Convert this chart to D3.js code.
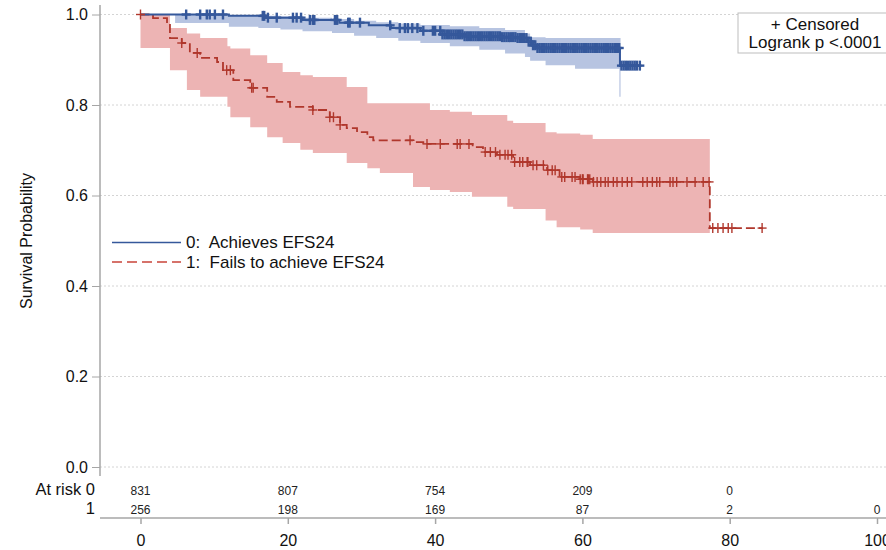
<!DOCTYPE html>
<html>
<head>
<meta charset="utf-8">
<script src="https://cdn.jsdelivr.net/npm/d3@7"></script>
<style>
body { margin: 0; background: #fff; }
svg { display: block; font-family: "Liberation Sans", Arial, sans-serif; }
</style>
</head>
<body>
<svg id="chart" width="886" height="550"></svg>
<script>
// Kaplan-Meier estimates: [month, survival]
const blueSteps = [[0, 1.0], [12, 0.997], [17, 0.993], [22, 0.988], [27, 0.982], [31, 0.976], [34, 0.970],
    [38, 0.964], [41, 0.956], [44, 0.952], [49, 0.950], [51, 0.948], [52.5, 0.940], [53.2, 0.932],
    [53.8, 0.926], [65.1, 0.887], [67.4, 0.887]]
const redSteps = [[0, 1.0], [1.7, 0.992], [3.6, 0.977], [4.0, 0.948], [5.6, 0.937], [6.7, 0.915], [8.1, 0.904],
    [10.4, 0.895], [11.2, 0.877], [12.6, 0.855], [14.9, 0.838], [17.2, 0.818], [18.5, 0.807], [20.3, 0.796],
    [23.4, 0.789], [25.7, 0.773], [27.1, 0.756], [28.0, 0.749], [29.4, 0.740], [30.8, 0.729], [31.6, 0.722],
    [37.0, 0.718], [38.4, 0.714], [45.1, 0.707], [46.5, 0.696], [48.4, 0.690], [50.6, 0.674], [52.9, 0.667],
    [55.2, 0.656], [56.9, 0.641], [59.7, 0.636], [61.4, 0.630], [77.3, 0.528], [84.5, 0.528]]

// confidence bands: [month, lower, upper]
const blueBand = [[4.7, 0.981, 0.999], [12, 0.973, 0.999], [16, 0.970, 0.997], [19, 0.967, 0.996],
    [22, 0.963, 0.993], [26, 0.959, 0.990], [29, 0.953, 0.986], [32, 0.948, 0.983], [35, 0.942, 0.980],
    [38, 0.937, 0.977], [42, 0.930, 0.974], [46, 0.922, 0.970], [49.5, 0.914, 0.966], [52.2, 0.906, 0.958],
    [52.9, 0.898, 0.950], [55, 0.888, 0.948], [59, 0.880, 0.948], [65.1, 0.880, 0.948]]
const blueBandTail = [65.1, 0.818, 0.948]
const redBand = [[0, 0.926, 1.0], [4, 0.877, 0.970], [6.3, 0.833, 0.958], [8.1, 0.818, 0.948],
    [11.8, 0.796, 0.930], [12.2, 0.773, 0.925], [14.9, 0.751, 0.910], [17.2, 0.729, 0.893],
    [19.3, 0.716, 0.873], [21.7, 0.701, 0.866], [23.4, 0.694, 0.862], [28, 0.672, 0.840],
    [30.8, 0.660, 0.804], [32.5, 0.650, 0.804], [37, 0.619, 0.804], [39.3, 0.612, 0.789],
    [42, 0.608, 0.785], [45, 0.597, 0.778], [49.8, 0.575, 0.765], [50.6, 0.570, 0.760],
    [55, 0.545, 0.740], [56.5, 0.530, 0.737], [59.7, 0.525, 0.734], [61.4, 0.517, 0.725], [77.3, 0.517, 0.725]]

// censoring times (months)
const blueCensored = [6.2, 8.1, 9.0, 9.4, 10.1, 11.2, 16.6, 16.8, 17.3, 18.5, 20.7, 21.2, 21.8, 23.0, 23.4,
    23.6, 26.4, 26.7, 28.2, 28.4, 29.8, 33.9, 35.2, 35.9, 36.3, 36.9, 37.6, 38.4, 39.7, 40.0,
    40.7, 41.0, 41.3, 41.6, 41.9, 42.2, 42.5, 42.8, 43.1, 43.4, 43.7, 44.0, 44.3, 44.6, 44.9, 45.2, 45.5,
    45.8, 46.1, 46.4, 46.7, 47.0, 47.3, 47.6, 47.9, 48.2, 48.5, 48.8, 49.1, 49.4, 49.7, 50.0, 50.3, 50.6,
    50.9, 51.2, 51.5, 51.8, 52.1, 52.4, 52.7, 53.0, 53.3, 53.6, 53.9, 54.2, 54.5, 54.8, 55.1, 55.4, 55.7,
    56.0, 56.3, 56.6, 56.9, 57.2, 57.5, 57.8, 58.1, 58.4, 58.7, 59.0, 59.3, 59.6, 59.9, 60.2, 60.5, 60.8,
    61.1, 61.4, 61.7, 62.0, 62.3, 62.6, 62.9, 63.2, 63.5, 63.8, 64.1, 64.4, 64.7, 65.0, 65.3, 65.6, 65.9,
    66.2, 66.5, 66.8, 67.1, 67.4, 67.8]
const redCensored = [0, 5.6, 7.7, 11.7, 12.2, 15.1, 15.3, 23.4, 25.7, 26.2, 27.1, 36.6, 38.9, 40.7, 43.0,
    43.4, 44.6, 46.8, 47.5, 48.2, 48.8, 49.5, 49.9, 50.4, 50.8, 51.5, 51.9, 52.5, 52.6, 53.3, 53.8, 54.7,
    55.3, 55.9, 56.3, 57.2, 57.6, 58.6, 59.0, 59.7, 60.0, 60.1, 60.7, 60.8, 61.0, 61.5, 62.0, 62.5, 63.1,
    63.5, 64.2, 64.7, 65.4, 66.1, 66.7, 68.2, 68.8, 69.5, 70.1, 70.5, 71.9, 72.3, 72.8, 74.2, 75.3, 76.4,
    77.2, 77.7, 78.4, 79.1, 79.8, 80.3, 84.4]

const xTicks = [0, 20, 40, 60, 80, 100]
const yTicks = [0, 0.2, 0.4, 0.6, 0.8, 1.0]
const atRisk0 = [831, 807, 754, 209, 0]
const atRisk1 = [256, 198, 169, 87, 2, 0]
const groupLabels = ['0:  Achieves EFS24', '1:  Fails to achieve EFS24']

const blueColor = '#35589b'
const redColor = '#b0372c'
const blueFill = '#b7c4e1'
const redFill = '#edb4b4'
const axisColor = '#a6a6a6'

const svg = d3.select('#chart')
const x = d3.scaleLinear().domain([0, 100]).range([140.5, 877])
const y = d3.scaleLinear().domain([0, 1]).range([467, 14.5])

// grid
svg.append('g').selectAll('line')
    .data(yTicks)
    .join('line')
    .attr('x1', 100).attr('x2', 886)
    .attr('y1', d => y(d)).attr('y2', d => y(d))
    .attr('stroke', '#d4d4d4')
    .attr('stroke-dasharray', '2,2')

// bands
const band = d3.area()
    .x(d => x(d[0]))
    .y0(d => y(d[1]))
    .y1(d => y(d[2]))
    .curve(d3.curveStepAfter)

svg.append('path').attr('d', band(redBand)).attr('fill', redFill)
svg.append('path').attr('d', band(blueBand)).attr('fill', blueFill)
svg.append('line')
    .attr('x1', x(blueBandTail[0])).attr('x2', x(blueBandTail[0]))
    .attr('y1', y(blueBandTail[1])).attr('y2', y(blueBandTail[2]))
    .attr('stroke', blueFill).attr('stroke-width', 1.2)

// curves
const step = d3.line()
    .x(d => x(d[0]))
    .y(d => y(d[1]))
    .curve(d3.curveStepAfter)

svg.append('path').attr('d', step(redSteps))
    .attr('fill', 'none').attr('stroke', redColor).attr('stroke-width', 1.8)
    .attr('stroke-dasharray', '9,4')
svg.append('path').attr('d', step(blueSteps))
    .attr('fill', 'none').attr('stroke', blueColor).attr('stroke-width', 2)

const survAt = (steps, t) => {
    let s = steps[0][1]
    steps.forEach(d => { if (d[0] <= t) s = d[1] })
    return s
}

const drawCensor = (times, steps, color, width) => {
    const g = svg.append('g').attr('stroke', color).attr('stroke-width', width)
    times.forEach(t => {
        const cx = x(t), cy = y(survAt(steps, t))
        g.append('line').attr('x1', cx).attr('x2', cx).attr('y1', cy - 5).attr('y2', cy + 5)
        g.append('line').attr('x1', cx - 4.5).attr('x2', cx + 4.5).attr('y1', cy).attr('y2', cy)
    })
}
drawCensor(redCensored, redSteps, redColor, 1.4)
drawCensor(blueCensored, blueSteps, blueColor, 2.4)

// y axis
const yAxis = svg.append('g')
    .attr('transform', 'translate(100,0)')
    .call(d3.axisLeft(y).tickValues(yTicks).tickFormat(d3.format('.1f')).tickSize(8).tickPadding(4))
yAxis.select('.domain').remove()
yAxis.selectAll('line').attr('stroke', axisColor)
yAxis.selectAll('text').attr('font-size', 16).attr('fill', '#111').attr('font-family', null)
svg.append('line').attr('x1', 100).attr('x2', 100).attr('y1', 5).attr('y2', 476)
    .attr('stroke', axisColor).attr('stroke-width', 1.5)

// x axis
const xAxis = svg.append('g')
    .attr('transform', 'translate(0,518)')
    .call(d3.axisBottom(x).tickValues(xTicks).tickSize(6).tickPadding(11))
xAxis.select('.domain').remove()
xAxis.selectAll('line').attr('stroke', axisColor).attr('stroke-width', 1.5)
xAxis.selectAll('text').attr('font-size', 16).attr('fill', '#111').attr('font-family', null)
svg.append('line').attr('x1', 100).attr('x2', 886).attr('y1', 518).attr('y2', 518)
    .attr('stroke', axisColor).attr('stroke-width', 1.5)

svg.append('text')
    .attr('transform', 'translate(32,241) rotate(-90)')
    .attr('text-anchor', 'middle')
    .attr('font-size', 16)
    .attr('fill', '#111')
    .text('Survival Probability')

// at-risk table
svg.append('text').attr('x', 95).attr('y', 495).attr('text-anchor', 'end')
    .attr('font-size', 16.5).attr('fill', '#111').text('At risk 0')
svg.append('text').attr('x', 95).attr('y', 514).attr('text-anchor', 'end')
    .attr('font-size', 16.5).attr('fill', '#111').text('1')
svg.append('g').selectAll('text')
    .data(atRisk0)
    .join('text')
    .attr('x', (d, i) => x(xTicks[i])).attr('y', 495)
    .attr('text-anchor', 'middle').attr('font-size', 12).attr('fill', '#222')
    .text(d => d)
svg.append('g').selectAll('text')
    .data(atRisk1)
    .join('text')
    .attr('x', (d, i) => x(xTicks[i])).attr('y', 514)
    .attr('text-anchor', 'middle').attr('font-size', 12).attr('fill', '#222')
    .text(d => d)

// legend
const legend = svg.append('g')
legend.append('line').attr('x1', 112).attr('x2', 181).attr('y1', 242.5).attr('y2', 242.5)
    .attr('stroke', blueColor).attr('stroke-width', 1.3)
legend.append('line').attr('x1', 112).attr('x2', 181).attr('y1', 262).attr('y2', 262)
    .attr('stroke', '#c9443a').attr('stroke-width', 1.3).attr('stroke-dasharray', '10,5')
legend.selectAll('text')
    .data(groupLabels)
    .join('text')
    .attr('x', 186).attr('y', (d, i) => 248 + i * 19.5)
    .attr('font-size', 17).attr('fill', '#111')
    .attr('xml:space', 'preserve')
    .text(d => d)

// censor / logrank box
svg.append('rect').attr('x', 738).attr('y', 13).attr('width', 160).attr('height', 40)
    .attr('fill', '#fff').attr('stroke', '#bdbdbd')
svg.append('text').attr('x', 815).attr('y', 30).attr('text-anchor', 'middle')
    .attr('font-size', 17).attr('fill', '#111').text('+ Censored')
svg.append('text').attr('x', 815).attr('y', 48).attr('text-anchor', 'middle')
    .attr('font-size', 17).attr('fill', '#111').text('Logrank p <.0001')
</script>
</body>
</html>
